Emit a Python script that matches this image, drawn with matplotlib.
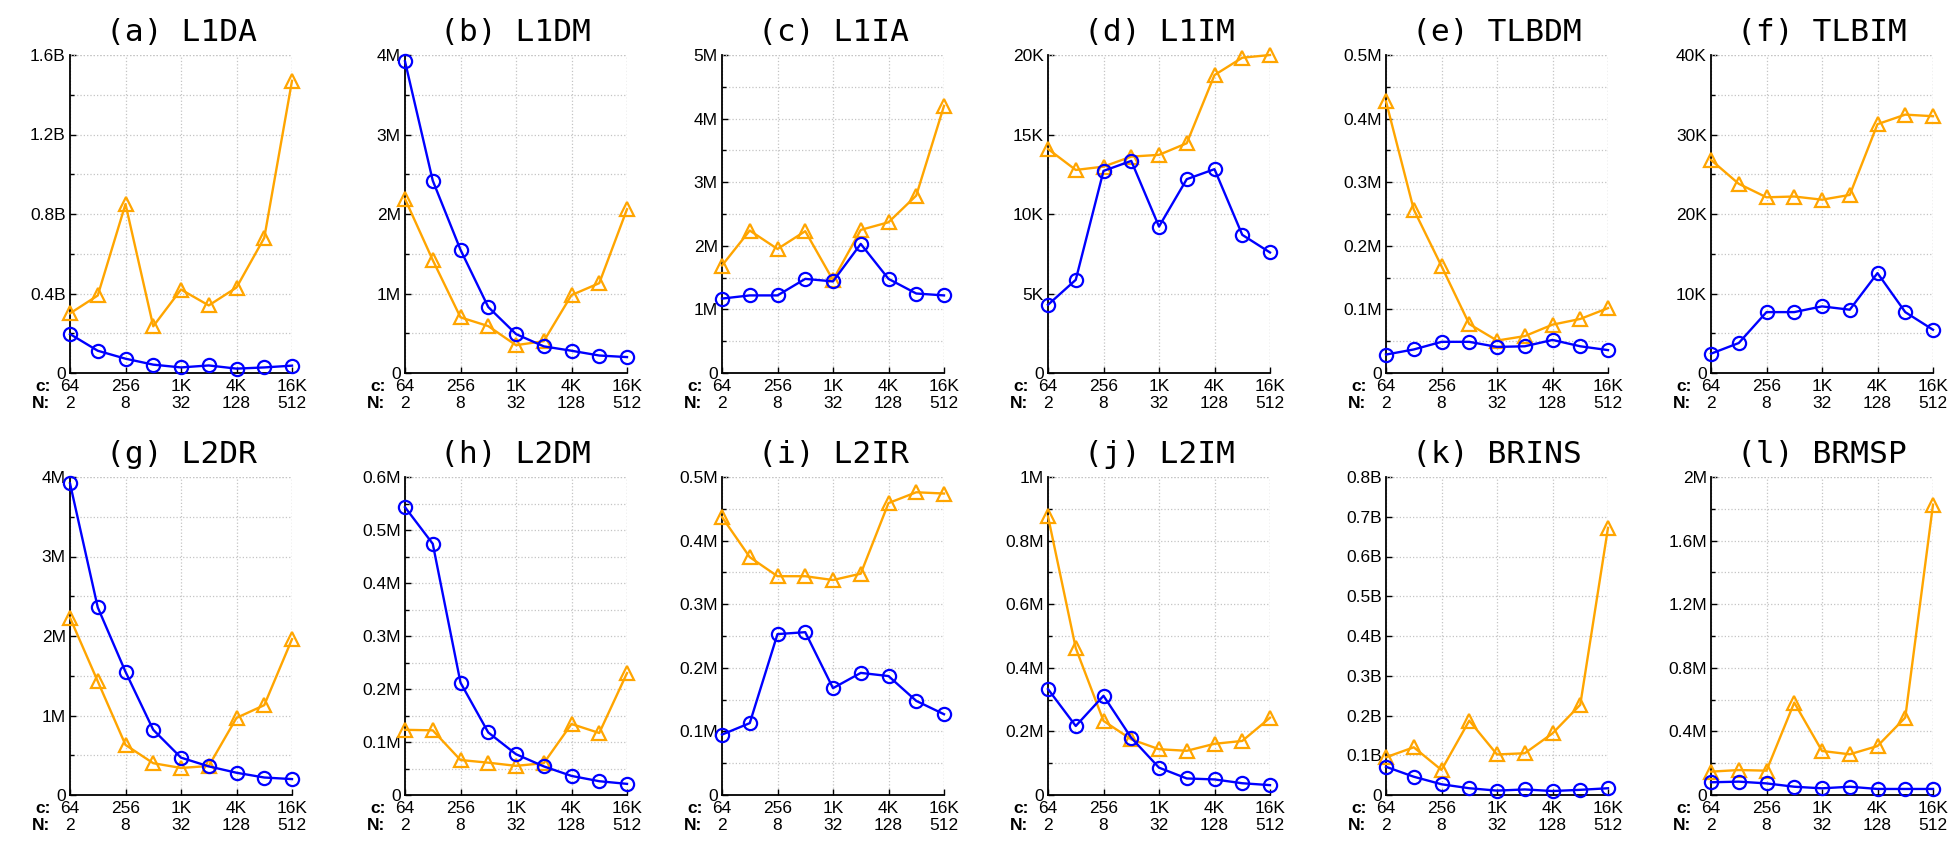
import matplotlib.pyplot as plt
import numpy as np
from matplotlib.ticker import MultipleLocator

# x positions: c = 64 .. 16K, N = 2 .. 512
steps = [0, 1, 2, 3, 4, 5, 6, 7, 8]
xtick_pos = [0, 2, 4, 6, 8]
xtick_labels = ["64\n2", "256\n8", "1K\n32", "4K\n128", "16K\n512"]

titles = ["(a) L1DA", "(b) L1DM", "(c) L1IA", "(d) L1IM", "(e) TLBDM", "(f) TLBIM",
          "(g) L2DR", "(h) L2DM", "(i) L2IR", "(j) L2IM", "(k) BRINS", "(l) BRMSP"]

# values in the unit of each panel's y labels (B, M or K)
l1da_blue = [0.196, 0.112, 0.072, 0.042, 0.028, 0.038, 0.022, 0.028, 0.037]
l1da_orange = [0.30, 0.39, 0.85, 0.235, 0.42, 0.34, 0.43, 0.68, 1.47]
l1dm_blue = [3.92, 2.42, 1.55, 0.83, 0.49, 0.335, 0.28, 0.22, 0.20]
l1dm_orange = [2.19, 1.42, 0.70, 0.59, 0.35, 0.40, 0.98, 1.13, 2.06]
l1ia_blue = [1.17, 1.22, 1.22, 1.48, 1.44, 2.03, 1.48, 1.25, 1.22]
l1ia_orange = [1.69, 2.24, 1.95, 2.23, 1.46, 2.25, 2.37, 2.79, 4.20]
l1im_blue = [4.29, 5.86, 12.71, 13.34, 9.21, 12.19, 12.82, 8.69, 7.58]
l1im_orange = [14.09, 12.77, 12.98, 13.61, 13.72, 14.45, 18.74, 19.83, 20.0]
tlbdm_blue = [0.029, 0.037, 0.049, 0.049, 0.041, 0.042, 0.052, 0.042, 0.036]
tlbdm_orange = [0.427, 0.257, 0.168, 0.077, 0.051, 0.058, 0.076, 0.085, 0.102]
tlbim_blue = [2.43, 3.77, 7.66, 7.66, 8.38, 7.96, 12.57, 7.66, 5.44]
tlbim_orange = [26.8, 23.8, 22.1, 22.2, 21.8, 22.4, 31.3, 32.5, 32.3]
l2dr_blue = [3.92, 2.36, 1.55, 0.82, 0.47, 0.36, 0.28, 0.22, 0.20]
l2dr_orange = [2.23, 1.43, 0.63, 0.40, 0.34, 0.365, 0.97, 1.13, 1.96]
l2dm_blue = [0.543, 0.474, 0.212, 0.118, 0.077, 0.054, 0.036, 0.026, 0.021]
l2dm_orange = [0.123, 0.122, 0.066, 0.061, 0.055, 0.060, 0.134, 0.117, 0.230]
l2ir_blue = [0.095, 0.113, 0.253, 0.256, 0.168, 0.192, 0.187, 0.148, 0.127]
l2ir_orange = [0.437, 0.374, 0.344, 0.344, 0.338, 0.348, 0.459, 0.476, 0.474]
l2im_blue = [0.333, 0.217, 0.312, 0.180, 0.086, 0.052, 0.049, 0.037, 0.031]
l2im_orange = [0.876, 0.462, 0.233, 0.175, 0.144, 0.139, 0.161, 0.170, 0.243]
brins_blue = [0.071, 0.046, 0.027, 0.017, 0.011, 0.014, 0.010, 0.013, 0.017]
brins_orange = [0.095, 0.120, 0.063, 0.187, 0.102, 0.105, 0.155, 0.227, 0.672]
brmsp_blue = [0.080, 0.084, 0.073, 0.052, 0.042, 0.052, 0.038, 0.038, 0.038]
brmsp_orange = [0.147, 0.157, 0.153, 0.581, 0.277, 0.256, 0.308, 0.487, 1.826]

blue_series = [l1da_blue, l1dm_blue, l1ia_blue, l1im_blue, tlbdm_blue, tlbim_blue,
               l2dr_blue, l2dm_blue, l2ir_blue, l2im_blue, brins_blue, brmsp_blue]
orange_series = [l1da_orange, l1dm_orange, l1ia_orange, l1im_orange, tlbdm_orange, tlbim_orange,
                 l2dr_orange, l2dm_orange, l2ir_orange, l2im_orange, brins_orange, brmsp_orange]

ytick_labels = [
    ["0", "0.4B", "0.8B", "1.2B", "1.6B"],
    ["0", "1M", "2M", "3M", "4M"],
    ["0", "1M", "2M", "3M", "4M", "5M"],
    ["0", "5K", "10K", "15K", "20K"],
    ["0", "0.1M", "0.2M", "0.3M", "0.4M", "0.5M"],
    ["0", "10K", "20K", "30K", "40K"],
    ["0", "1M", "2M", "3M", "4M"],
    ["0", "0.1M", "0.2M", "0.3M", "0.4M", "0.5M", "0.6M"],
    ["0", "0.1M", "0.2M", "0.3M", "0.4M", "0.5M"],
    ["0", "0.2M", "0.4M", "0.6M", "0.8M", "1M"],
    ["0", "0.1B", "0.2B", "0.3B", "0.4B", "0.5B", "0.6B", "0.7B", "0.8B"],
    ["0", "0.4M", "0.8M", "1.2M", "1.6M", "2M"],
]
y_max = [1.6, 4, 5, 20, 0.5, 40, 4, 0.6, 0.5, 1, 0.8, 2]
y_minor = [0.2, 0.5, 0.5, None, 0.05, 5, 0.5, 0.05, 0.05, 0.1, None, 0.2]

W, H = 1959, 852
lefts = [70, 405, 722, 1048, 1386, 1711]
tops = [55, 477]
ax_w, ax_h = 222, 318

plt.rcParams['font.family'] = ['Liberation Sans', 'DejaVu Sans']

fig = plt.figure(figsize=(W / 100, H / 100), dpi=100)

for i in range(12):
    row, col = divmod(i, 6)
    ax = fig.add_axes([lefts[col] / W, 1 - (tops[row] + ax_h) / H, ax_w / W, ax_h / H])

    ax.plot(steps, orange_series[i], color='#ffa500', lw=1.7, marker='^', ms=10.5,
            mfc='none', mew=1.6, clip_on=False, zorder=3)
    ax.plot(steps, blue_series[i], color='#0000ff', lw=1.7, marker='o', ms=9.5,
            mfc='none', mew=1.6, clip_on=False, zorder=4)

    ax.set_xlim(0, 8)
    ax.set_ylim(0, y_max[i])
    ax.set_xticks(xtick_pos, xtick_labels, fontsize=12.5)
    labels = ytick_labels[i]
    ax.set_yticks(np.linspace(0, y_max[i], len(labels)), labels, fontsize=12.5)
    if y_minor[i]:
        ax.yaxis.set_minor_locator(MultipleLocator(y_minor[i]))
    ax.tick_params(direction='in', length=4, width=1, pad=4)
    ax.tick_params(which='minor', direction='in', length=3, width=1)
    ax.tick_params(axis='y', pad=3)

    ax.grid(True, which='both', linestyle=':', color='#c4c4c4', lw=0.9)
    ax.spines['top'].set_visible(False)
    ax.spines['right'].set_visible(False)
    ax.spines['left'].set_linewidth(1.3)
    ax.spines['bottom'].set_linewidth(1.3)
    # dotted frame on top / right like the grid
    ax.axhline(y_max[i], linestyle=':', color='#c4c4c4', lw=0.9)
    ax.axvline(8, linestyle=':', color='#c4c4c4', lw=0.9)

    ax.annotate("c:\nN:", xy=(0, 0), xycoords='axes fraction', xytext=(-14, -4),
                textcoords='offset points', ha='right', va='top', fontsize=12.5,
                fontweight='bold', linespacing=1.2)

    ax.set_title(titles[i], fontsize=22.5, family='DejaVu Sans Mono', pad=10)

plt.savefig('out.png', dpi=100)
